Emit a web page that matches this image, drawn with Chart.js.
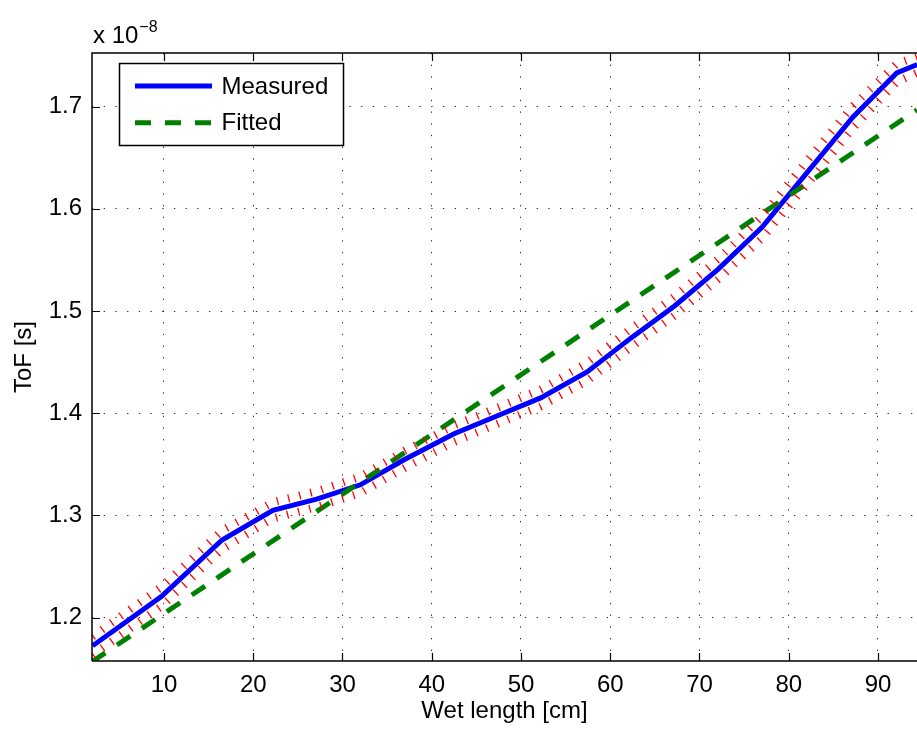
<!DOCTYPE html>
<html>
<head>
<meta charset="utf-8">
<script src="https://cdn.jsdelivr.net/npm/chart.js@4.4.0/dist/chart.umd.min.js"></script>
<style>
html,body{margin:0;padding:0;background:#fff;}
#wrap{width:917px;height:733px;position:relative;}
</style>
</head>
<body>
<div id="wrap"><canvas id="c" width="917" height="733"></canvas></div>
<script>
// ---- data (ToF values in units of 1e-8 s) ----
const wetLength  = [2, 9.7, 16.5, 22.2, 27.1, 32.0, 37.0, 42.5, 47.5, 52.2, 57.4, 62.3, 67.2, 72.1, 77.0, 82.0, 87.2, 92.1, 94.4];
const measured   = [1.1725, 1.2206, 1.2760, 1.3050, 1.3160, 1.3300, 1.3550, 1.3800, 1.3980, 1.4150, 1.4405, 1.4735, 1.5050, 1.5410, 1.5820, 1.6350, 1.6900, 1.7330, 1.7412];
const upperBound = [1.1815, 1.2301, 1.2852, 1.3130, 1.3237, 1.3381, 1.3634, 1.3881, 1.4059, 1.4232, 1.4493, 1.4827, 1.5143, 1.5509, 1.5928, 1.6465, 1.7009, 1.7420, 1.7491];
const lowerBound = [1.1635, 1.2111, 1.2668, 1.2970, 1.3083, 1.3219, 1.3466, 1.3719, 1.3901, 1.4068, 1.4317, 1.4643, 1.4957, 1.5311, 1.5712, 1.6235, 1.6791, 1.7240, 1.7333];
const fitLength  = [1.933, 94.37];
const fitted     = [1.1569, 1.6968];
const xTicks = [10, 20, 30, 40, 50, 60, 70, 80, 90];
const yTicks = [1.2, 1.3, 1.4, 1.5, 1.6, 1.7];
const xRange = [1.933, 94.37];
const yRange = [1.1576, 1.7525];

const FONT = "'Liberation Sans', Arial, Helvetica, sans-serif";
Chart.defaults.font.family = FONT;
Chart.defaults.font.size = 24;
Chart.defaults.color = '#000';

const pts = (xs, ys) => xs.map((x, i) => ({x: x, y: ys[i]}));

const framePlugin = {
  id: 'frame',
  afterDraw(chart) {
    const {ctx, chartArea: a, scales: {x, y}} = chart;
    ctx.save();
    ctx.strokeStyle = '#000';
    ctx.lineWidth = 1.5;
    ctx.beginPath();
    ctx.moveTo(a.left, a.bottom); ctx.lineTo(a.left, a.top); ctx.lineTo(a.right, a.top);
    ctx.moveTo(a.left, a.bottom); ctx.lineTo(a.right, a.bottom);
    ctx.stroke();
    const L = 8;
    ctx.lineWidth = 1.2;
    ctx.beginPath();
    xTicks.forEach(v => {
      const px = Math.round(x.getPixelForValue(v)) + 0.5;
      ctx.moveTo(px, a.bottom); ctx.lineTo(px, a.bottom - L);
      ctx.moveTo(px, a.top); ctx.lineTo(px, a.top + L);
    });
    yTicks.forEach(v => {
      const py = Math.round(y.getPixelForValue(v)) + 0.5;
      ctx.moveTo(a.left, py); ctx.lineTo(a.left + L, py);
    });
    ctx.stroke();
    // exponent label
    ctx.fillStyle = '#000';
    ctx.textBaseline = 'alphabetic';
    ctx.textAlign = 'left';
    ctx.font = '24px ' + FONT;
    const base = 'x 10';
    ctx.fillText(base, a.left + 1, 43);
    const w = ctx.measureText(base).width;
    ctx.font = '16px ' + FONT;
    ctx.fillText('\u22128', a.left + 2 + w, 32);
    // legend
    const bx = a.left + 27.5, by = a.top + 10.5, bw = 224, bh = 82;
    ctx.fillStyle = '#fff';
    ctx.fillRect(bx, by, bw, bh);
    ctx.lineWidth = 1.5;
    ctx.strokeStyle = '#000';
    ctx.strokeRect(bx, by, bw, bh);
    const items = chart.data.datasets.filter(d => d.inLegend);
    items.forEach((d, i) => {
      const ly = by + 22.5 + i * 36.7;
      ctx.save();
      ctx.strokeStyle = d.borderColor;
      ctx.lineWidth = d.borderWidth;
      ctx.lineCap = 'butt';
      ctx.setLineDash(d.borderDash || []);
      ctx.beginPath(); ctx.moveTo(bx + 15.5, ly); ctx.lineTo(bx + 92.5, ly); ctx.stroke();
      ctx.restore();
      ctx.fillStyle = '#000';
      ctx.font = '24px ' + FONT;
      ctx.textBaseline = 'middle';
      ctx.fillText(d.label, bx + 102, ly + 1);
    });
    ctx.restore();
  }
};

new Chart(document.getElementById('c'), {
  type: 'line',
  data: {
    datasets: [
      {label: 'Measured', inLegend: true, data: pts(wetLength, measured), borderColor: '#0000ff', borderWidth: 5,
       pointRadius: 0, tension: 0, clip: 0, order: 3},
      {label: 'Fitted', inLegend: true, data: pts(fitLength, fitted), borderColor: '#008000', borderWidth: 5,
       borderDash: [16, 14], borderCapStyle: 'butt', pointRadius: 0, tension: 0, clip: 0, order: 2},
      {label: 'Upper', data: pts(wetLength, upperBound), borderColor: '#ff0000', borderWidth: 8,
       borderDash: [1.3, 10.2], borderCapStyle: 'butt', pointRadius: 0, tension: 0, clip: 0, order: 1},
      {label: 'Lower', data: pts(wetLength, lowerBound), borderColor: '#ff0000', borderWidth: 8,
       borderDash: [1.3, 10.2], borderCapStyle: 'butt', pointRadius: 0, tension: 0, clip: 0, order: 1}
    ]
  },
  options: {
    responsive: false,
    animation: false,
    devicePixelRatio: 1,
    layout: {padding: {top: 53, left: 0, right: 0, bottom: 0}},
    plugins: {legend: {display: false}, tooltip: {enabled: false}},
    scales: {
      x: {
        type: 'linear', min: xRange[0], max: xRange[1],
        afterBuildTicks: s => { s.ticks = xTicks.map(v => ({value: v})); },
        afterFit: s => { s.height = 72; },
        ticks: {padding: 10, color: '#000', font: {size: 24}},
        grid: {color: 'rgba(0,0,0,0.85)', lineWidth: 1, drawTicks: false},
        border: {display: false, dash: [1.3, 10.4]},
        title: {display: true, text: 'Wet length [cm]', color: '#000', font: {size: 24}, padding: {top: 0, bottom: 7}}
      },
      y: {
        type: 'linear', min: yRange[0], max: yRange[1],
        afterBuildTicks: s => { s.ticks = yTicks.map(v => ({value: v})); },
        afterFit: s => { s.width = 92; },
        ticks: {padding: 10, color: '#000', font: {size: 24}, callback: v => Number(v).toFixed(1)},
        grid: {color: 'rgba(0,0,0,0.85)', lineWidth: 1, drawTicks: false},
        border: {display: false, dash: [1.3, 10.4]},
        title: {display: true, text: 'ToF [s]', color: '#000', font: {size: 24}, padding: {top: 10, bottom: 0}}
      }
    }
  },
  plugins: [framePlugin]
});
</script>
</body>
</html>
